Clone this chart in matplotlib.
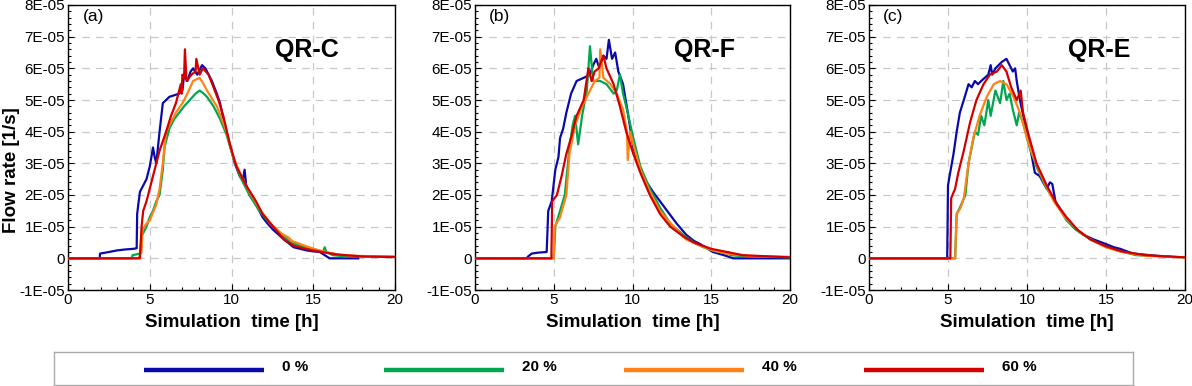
import numpy as np
import matplotlib
matplotlib.use("Agg")
import matplotlib.pyplot as plt
from matplotlib.ticker import MultipleLocator, FuncFormatter

plt.rcParams["font.family"] = ["Liberation Sans", "DejaVu Sans"]

W, H = 1192, 386

# series labels / colours
LABELS = ["0 %", "20 %", "40 %", "60 %"]
COLORS = ["#0a0aaa", "#00a650", "#ff8214", "#d20000"]
PANELS = ["QR-C", "QR-F", "QR-E"]
TAGS = ["(a)", "(b)", "(c)"]
SCALE = 1e-5

# (time [h], flow rate [1e-5 1/s])
QRC_0 = [(0, 0), (1.94, 0), (1.96, 0.15), (2.5, 0.2), (3.0, 0.25), (3.5, 0.28), (4.0, 0.3),
         (4.2, 0.32), (4.23, 1.4), (4.3, 1.7), (4.4, 2.1), (4.6, 2.3), (4.8, 2.5), (5.0, 2.9),
         (5.2, 3.5), (5.3, 3.2), (5.4, 3.0), (5.6, 4.0), (5.8, 4.9), (6.0, 5.0), (6.2, 5.1),
         (6.5, 5.15), (6.8, 5.2), (7.0, 5.3), (7.1, 5.8), (7.3, 5.6), (7.5, 5.9), (7.65, 6.0),
         (7.9, 5.8), (8.2, 6.1), (8.4, 6.0), (8.6, 5.8), (8.8, 5.6), (9.1, 5.2), (9.3, 4.9),
         (9.5, 4.4), (9.7, 4.0), (9.9, 3.6), (10.2, 3.0), (10.5, 2.6), (10.7, 2.5), (10.8, 2.8),
         (10.9, 2.3), (11.1, 2.0), (11.5, 1.7), (11.9, 1.3), (12.2, 1.1), (12.55, 0.9),
         (13.2, 0.6), (13.8, 0.35), (14.2, 0.3), (14.6, 0.25), (15.0, 0.22), (15.4, 0.2),
         (15.7, 0.1), (16.0, 0.0), (17.75, 0.0)]
QRC_20 = [(0, 0), (3.9, 0), (3.95, 0.1), (4.4, 0.15), (4.5, 0.7), (4.8, 1.0), (5.0, 1.3),
          (5.2, 1.5), (5.4, 1.8), (5.6, 2.0), (5.8, 2.8), (5.9, 3.5), (6.2, 4.1), (6.5, 4.4),
          (6.8, 4.6), (7.1, 4.8), (7.45, 5.0), (7.8, 5.2), (8.05, 5.3), (8.3, 5.2), (8.5, 5.1),
          (8.9, 4.8), (9.3, 4.4), (9.7, 3.9), (10.1, 3.2), (10.5, 2.6), (11.1, 2.0), (11.7, 1.5),
          (12.35, 1.1), (13.0, 0.8), (13.6, 0.5), (14.2, 0.4), (15.0, 0.3), (15.6, 0.2),
          (15.7, 0.35), (15.8, 0.2), (16.2, 0.1), (17.0, 0.06), (20, 0.05)]
QRC_40 = [(0, 0), (4.3, 0), (4.4, 0.1), (4.5, 0.2), (4.55, 0.9), (4.8, 1.1), (5.0, 1.2),
          (5.4, 1.7), (5.6, 2.2), (5.8, 3.0), (6.0, 4.0), (6.3, 4.3), (6.6, 4.6), (7.0, 4.9),
          (7.3, 5.2), (7.65, 5.6), (8.05, 5.7), (8.3, 5.5), (8.5, 5.3), (9.1, 4.8), (9.7, 4.0),
          (10.1, 3.2), (10.6, 2.6), (11.2, 2.0), (11.8, 1.5), (12.4, 1.1), (13.0, 0.8),
          (13.5, 0.65), (13.7, 0.55), (14.2, 0.45), (15.0, 0.3), (15.8, 0.2), (16.5, 0.12),
          (17.5, 0.08), (20, 0.05)]
QRC_60 = [(0, 0), (4.4, 0), (4.5, 1.0), (4.6, 1.5), (4.8, 1.8), (5.2, 2.6), (5.6, 3.4),
          (6.0, 4.0), (6.3, 4.5), (6.6, 4.9), (6.9, 5.5), (6.95, 5.2), (7.0, 5.8), (7.1, 5.7),
          (7.15, 6.6), (7.25, 5.6), (7.55, 5.8), (7.8, 5.9), (7.85, 6.3), (8.05, 5.8),
          (8.25, 6.0), (8.6, 5.8), (8.9, 5.4), (9.2, 5.0), (9.5, 4.5), (9.9, 3.6), (10.3, 2.9),
          (10.9, 2.3), (11.5, 1.8), (11.9, 1.4), (12.55, 1.0), (13.2, 0.6), (13.8, 0.4),
          (14.5, 0.3), (15.5, 0.2), (16.5, 0.12), (18, 0.06), (20, 0.04)]

QRF_0 = [(0, 0), (3.3, 0), (3.35, 0.05), (3.6, 0.15), (4.0, 0.18), (4.55, 0.2), (4.65, 1.5),
         (4.87, 1.8), (5.1, 2.8), (5.3, 3.2), (5.4, 3.8), (5.6, 4.1), (5.8, 4.6), (6.1, 5.2),
         (6.45, 5.6), (6.9, 5.7), (7.3, 5.8), (7.5, 6.1), (7.7, 6.3), (7.9, 6.0), (8.15, 6.4),
         (8.35, 6.3), (8.5, 6.9), (8.7, 6.3), (8.9, 6.5), (9.1, 5.9), (9.4, 5.5), (9.7, 4.6),
         (10.05, 3.5), (10.5, 2.8), (10.9, 2.4), (11.3, 2.1), (11.75, 1.8), (12.2, 1.5),
         (12.8, 1.1), (13.4, 0.75), (13.9, 0.55), (14.3, 0.45), (15.1, 0.2), (15.8, 0.1),
         (16.4, 0.0), (20, 0.0)]
QRF_20 = [(0, 0), (5.0, 0), (5.1, 1.0), (5.4, 1.5), (5.7, 2.0), (6.0, 3.5), (6.2, 4.2),
          (6.35, 4.5), (6.55, 3.6), (6.8, 4.5), (7.1, 5.3), (7.3, 6.7), (7.5, 5.6), (7.95, 5.6),
          (8.35, 5.5), (8.8, 5.2), (9.0, 5.3), (9.2, 5.8), (9.4, 5.2), (9.6, 4.8), (10.05, 3.8),
          (10.5, 2.9), (11.1, 2.2), (11.75, 1.6), (12.4, 1.1), (13.2, 0.75), (13.9, 0.5),
          (14.5, 0.35), (15.3, 0.22), (16.0, 0.15), (16.1, 0.2), (16.2, 0.1), (17.0, 0.07),
          (20, 0.03)]
QRF_40 = [(0, 0), (5.0, 0), (5.05, 1.0), (5.4, 1.3), (5.8, 2.0), (6.0, 3.3), (6.35, 4.2),
          (6.8, 4.8), (7.2, 5.2), (7.6, 5.6), (7.9, 5.7), (7.95, 6.6), (8.15, 5.7), (8.6, 5.5),
          (9.0, 5.2), (9.4, 4.7), (9.65, 4.0), (9.7, 3.1), (9.85, 4.0), (10.05, 3.6), (10.5, 2.8),
          (11.1, 2.1), (11.75, 1.5), (12.6, 1.0), (13.4, 0.6), (14.3, 0.4), (15.1, 0.25),
          (16.0, 0.15), (17.5, 0.07), (20, 0.05)]
QRF_60 = [(0, 0), (4.85, 0), (4.9, 1.8), (5.2, 2.0), (5.5, 2.6), (5.8, 3.3), (6.15, 3.9),
          (6.45, 4.5), (6.9, 5.0), (7.2, 6.0), (7.4, 5.6), (7.6, 5.9), (7.85, 6.0), (8.15, 6.4),
          (8.35, 6.0), (8.8, 5.5), (9.2, 4.8), (9.6, 4.0), (10.05, 3.3), (10.5, 2.7), (11.1, 2.0),
          (11.75, 1.4), (12.4, 1.0), (13.2, 0.7), (13.9, 0.5), (15.0, 0.3), (17.0, 0.1), (20, 0.03)]

QRE_0 = [(0, 0), (4.95, 0), (5.0, 2.3), (5.1, 2.6), (5.35, 3.3), (5.55, 4.0), (5.75, 4.6),
         (6.0, 5.0), (6.3, 5.5), (6.5, 5.4), (6.7, 5.6), (6.9, 5.5), (7.1, 5.6), (7.55, 5.8),
         (7.7, 6.1), (7.8, 5.8), (8.0, 6.0), (8.4, 6.2), (8.7, 6.3), (9.0, 6.0), (9.1, 5.9),
         (9.25, 6.0), (9.35, 5.6), (9.55, 5.0), (9.9, 4.2), (10.2, 3.5), (10.5, 2.7), (10.8, 2.6),
         (11.25, 2.2), (11.45, 2.4), (11.6, 2.35), (11.8, 1.8), (12.3, 1.4), (12.9, 1.0),
         (13.55, 0.75), (14.2, 0.6), (15.0, 0.45), (15.5, 0.35), (15.9, 0.3), (16.7, 0.15),
         (18.2, 0.08), (19.05, 0.05)]
QRE_20 = [(0, 0), (5.45, 0), (5.55, 1.4), (5.75, 1.6), (6.1, 2.0), (6.3, 3.0), (6.5, 3.5),
          (6.7, 4.0), (6.9, 3.9), (7.1, 4.5), (7.3, 4.2), (7.55, 5.0), (7.7, 4.5), (8.0, 5.3),
          (8.3, 4.9), (8.5, 5.6), (8.7, 5.0), (8.9, 5.2), (9.1, 4.7), (9.35, 4.2), (9.5, 4.6),
          (9.75, 4.3), (10.1, 3.6), (10.6, 2.9), (11.25, 2.2), (11.9, 1.7), (12.5, 1.2),
          (13.1, 0.9), (14.0, 0.6), (14.8, 0.4), (15.7, 0.25), (16.9, 0.1), (20, 0.03)]
QRE_40 = [(0, 0), (5.45, 0), (5.55, 1.4), (5.8, 1.6), (6.0, 1.9), (6.3, 3.0), (6.6, 3.8),
          (7.0, 4.5), (7.45, 5.1), (7.9, 5.5), (8.3, 5.6), (8.7, 5.5), (9.15, 5.1), (9.55, 4.6),
          (10.0, 3.8), (10.4, 3.2), (11.0, 2.5), (11.7, 1.8), (12.4, 1.3), (13.2, 0.9),
          (14.0, 0.6), (15.0, 0.35), (16.0, 0.2), (17.5, 0.08), (20, 0.03)]
QRE_60 = [(0, 0), (5.15, 0), (5.2, 1.9), (5.45, 2.2), (5.65, 2.7), (6.0, 3.4), (6.4, 4.3),
          (6.8, 5.0), (7.25, 5.5), (7.65, 5.8), (8.1, 5.9), (8.4, 6.1), (8.7, 5.9), (9.0, 5.4),
          (9.35, 5.0), (9.6, 5.3), (9.75, 4.6), (10.1, 3.9), (10.6, 3.0), (11.25, 2.3),
          (11.9, 1.7), (12.5, 1.3), (13.2, 0.9), (14.0, 0.6), (15.0, 0.38), (16.0, 0.22),
          (17.5, 0.1), (20, 0.03)]

DATA = [[QRC_0, QRC_20, QRC_40, QRC_60],
        [QRF_0, QRF_20, QRF_40, QRF_60],
        [QRE_0, QRE_20, QRE_40, QRE_60]]


def px(x0, y0, x1, y1):
    # pixel box (top-left origin) -> figure fraction rect
    return [x0 / W, 1 - y1 / H, (x1 - x0) / W, (y1 - y0) / H]


def fmt_y(v, pos):
    if abs(v) < 1e-12:
        return "0"
    return f"{v:.0E}"


fig = plt.figure(figsize=(W / 100, H / 100), dpi=100)
boxes = [(68, 5, 395, 290), (475, 5, 790, 290), (869, 5, 1185, 290)]

for k, box in enumerate(boxes):
    ax = fig.add_axes(px(*box))
    for series, col in zip(DATA[k], COLORS):
        arr = np.array(series, dtype=float)
        ax.plot(arr[:, 0], arr[:, 1] * SCALE, color=col, lw=1.6, zorder=3)
    ax.set_xlim(0, 20)
    ax.set_ylim(-1e-5, 8e-5)
    ax.xaxis.set_major_locator(MultipleLocator(5))
    ax.xaxis.set_minor_locator(MultipleLocator(1))
    ax.yaxis.set_major_locator(MultipleLocator(1e-5))
    ax.yaxis.set_minor_locator(MultipleLocator(0.2e-5))
    ax.yaxis.set_major_formatter(FuncFormatter(fmt_y))
    ax.tick_params(which="both", direction="in", labelsize=11, pad=2, width=0.8)
    ax.tick_params(which="major", length=4)
    ax.tick_params(which="minor", length=2)
    ax.grid(True, which="major", color="#c8c8c8", ls=(0, (6, 5)), lw=0.9, zorder=1)
    for s in ax.spines.values():
        s.set_linewidth(1.0)
    ax.set_xlabel("Simulation  time [h]", fontsize=13.5, fontweight="bold")
    ax.xaxis.set_label_coords(0.5, -0.085)
    if k == 0:
        ax.set_ylabel("Flow rate [1/s]", fontsize=13.5, fontweight="bold")
        ax.yaxis.set_label_coords(-0.148, 0.42)
    ax.text(0.045, 0.958, TAGS[k], transform=ax.transAxes, fontsize=12.5,
            ha="left", va="center")
    ax.text(0.73, 0.842, PANELS[k], transform=ax.transAxes, fontsize=18,
            fontweight="bold", ha="center", va="center")

# legend strip
lg = fig.add_axes(px(54, 352, 1133, 385))
lg.set_xlim(54, 1133)
lg.set_ylim(0, 1)
lg.set_xticks([])
lg.set_yticks([])
for s in lg.spines.values():
    s.set_color("#aaaaaa")
    s.set_linewidth(1.0)
for i, (lab, col) in enumerate(zip(LABELS, COLORS)):
    x0 = 144 + 240 * i
    lg.plot([x0, x0 + 120], [0.45, 0.45], color=col, lw=3.2, solid_capstyle="butt")
    lg.text(x0 + 138, 0.55, lab, fontsize=11, fontweight="bold", ha="left", va="center")

fig.savefig("out.png", dpi=100)
